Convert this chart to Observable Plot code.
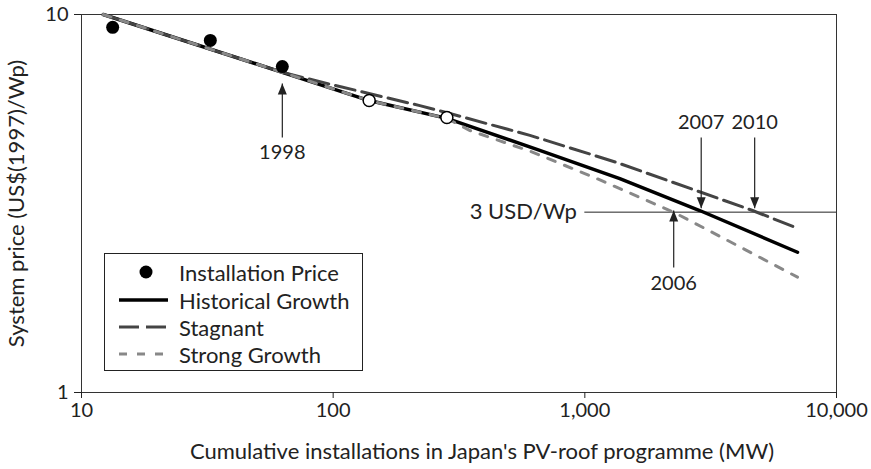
<!DOCTYPE html>
<html><head><meta charset="utf-8">
<script src="https://cdn.jsdelivr.net/npm/d3@7"></script>
<script src="https://cdn.jsdelivr.net/npm/@observablehq/plot@0.6"></script>
<style>
body{margin:0;background:#fff;}
#wrap{position:relative;width:871px;height:469px;font-family:Lato,"DejaVu Sans",sans-serif;color:#222;}
#legend{position:absolute;left:104px;top:253px;width:259px;height:118px;border:1px solid #222;background:#fff;box-sizing:border-box;}
.row{position:absolute;left:0;height:28px;display:flex;align-items:center;font-size:22px;white-space:nowrap;}
.row svg{width:74px;height:28px;flex:none;}
</style>
</head><body><div id="wrap"></div>
<script>
// --- data ---
const priceX = [13.3, 32.5, 62.8];
const priceY = [9.25, 8.54, 7.28];
const projX = [139, 283];
const projY = [5.92, 5.34];
const histX = [12.2, 62.8, 139, 283, 662, 1377, 2860, 7000];
const histY = [10, 7.03, 5.92, 5.31, 4.37, 3.68, 3.03, 2.35];
const stagX = [12.2, 62.8, 102, 221, 291, 605, 1340, 4640, 7000];
const stagY = [10, 7.03, 6.49, 5.74, 5.47, 4.79, 4.06, 3.03, 2.72];
const strongX = [12.2, 62.8, 139, 283, 350, 611, 1096, 2275, 7000];
const strongY = [10, 7.03, 5.92, 5.31, 4.93, 4.34, 3.70, 2.99, 2.02];
const arrowLabels = ["1998", "2006", "2007", "2010"];
const arrowX = [62.8, 2255, 2900, 4730];
const arrowFrom = [4.73, 2.14, 4.73, 4.73];
const arrowTo = [6.57, 3.03, 3.07, 3.07];
const arrowLabelY = [4.30, 1.94, 5.18, 5.18];
const targetPrice = 3;
const targetFrom = 1000;
const targetTo = 10000;
const targetLabel = "3 USD/Wp";
const xTicks = [10, 100, 1000, 10000];
const yTicks = [1, 10];
const xLabel = "Cumulative installations in Japan's PV-roof programme (MW)";
const yLabel = "System price (US$(1997)/Wp)";
const seriesNames = ["Installation Price", "Historical Growth", "Stagnant", "Strong Growth"];

const zip = (xs, ys) => xs.map((x, i) => ({x, y: ys[i]}));
const price = zip(priceX, priceY);
const proj = zip(projX, projY);
const hist = zip(histX, histY);
const stag = zip(stagX, stagY);
const strong = zip(strongX, strongY);
const arrows = arrowLabels.map((label, i) => ({label, x: arrowX[i], from: arrowFrom[i], to: arrowTo[i], ly: arrowLabelY[i]}));

const plot = Plot.plot({
  width: 871, height: 469,
  marginLeft: 81, marginRight: 35, marginTop: 14, marginBottom: 77,
  style: {fontFamily: "Lato, 'DejaVu Sans', sans-serif", fontSize: "20px", color: "#222", background: "white", overflow: "visible"},
  x: {type: "log", domain: [10, 10000]},
  y: {type: "log", domain: [1, 10]},
  marks: [
    Plot.frame({stroke: "#333"}),
    Plot.axisX({ticks: xTicks, tickFormat: d => d3.format(",")(d), tickSize: 6, tickPadding: 4, fontSize: 20, label: null}),
    Plot.text([xLabel], {frameAnchor: "bottom", text: d => d, dx: 23, dy: 66, fontSize: 22, fill: "#222"}),
    Plot.axisY({ticks: yTicks, tickFormat: d => String(d), tickSize: 7, tickPadding: 6, fontSize: 20, label: null}),
    Plot.axisY({ticks: [], label: yLabel, labelAnchor: "center", labelOffset: 73, labelArrow: "none", fontSize: 22}),
    Plot.ruleY([targetPrice], {x1: targetFrom, x2: targetTo, stroke: "#222", strokeWidth: 1}),
    Plot.text([targetLabel], {x: targetFrom, y: targetPrice, text: d => d, textAnchor: "end", dx: -8, fontSize: 22, fill: "#222"}),
    Plot.line(hist, {x: "x", y: "y", stroke: "#000", strokeWidth: 3.5}),
    Plot.line(stag, {x: "x", y: "y", stroke: "#444", strokeWidth: 3, strokeDasharray: "20,7"}),
    Plot.line(strong, {x: "x", y: "y", stroke: "#888", strokeWidth: 3, strokeDasharray: "8,10"}),
    Plot.dot(price, {x: "x", y: "y", r: 6.5, fill: "#000"}),
    Plot.dot(proj, {x: "x", y: "y", r: 6, fill: "white", stroke: "#000", strokeWidth: 1.5}),
    Plot.link(arrows, {x1: "x", x2: "x", y1: "from", y2: "to", stroke: "#222", strokeWidth: 1.2}),
    Plot.vector(arrows, {x: "x", y: "to", shape: "spike", length: 11, r: 4.5, anchor: "end", rotate: d => d.to > d.from ? 0 : 180, fill: "#222", stroke: "none"}),
    Plot.text(arrows, {x: "x", y: "ly", text: "label", fontSize: 20, fill: "#222"})
  ]
});

const wrap = document.getElementById("wrap");
wrap.appendChild(plot);

// legend overlay inside the plot area
const legend = document.createElement("div");
legend.id = "legend";
const rowTops = [4, 32, 59, 86];
const symbols = [
  '<circle cx="41" cy="14" r="6.5" fill="#000"/>',
  '<line x1="14" x2="63" y1="14" y2="14" stroke="#000" stroke-width="3.5"/>',
  '<line x1="14" x2="63" y1="14" y2="14" stroke="#444" stroke-width="3" stroke-dasharray="20,7"/>',
  '<line x1="14" x2="63" y1="14" y2="14" stroke="#888" stroke-width="3" stroke-dasharray="8,10"/>'
];
seriesNames.forEach((name, i) => {
  const row = document.createElement("div");
  row.className = "row";
  row.style.top = rowTops[i] + "px";
  row.innerHTML = `<svg viewBox="0 0 74 28">${symbols[i]}</svg><span>${name}</span>`;
  legend.appendChild(row);
});
wrap.appendChild(legend);
</script>
</body></html>
